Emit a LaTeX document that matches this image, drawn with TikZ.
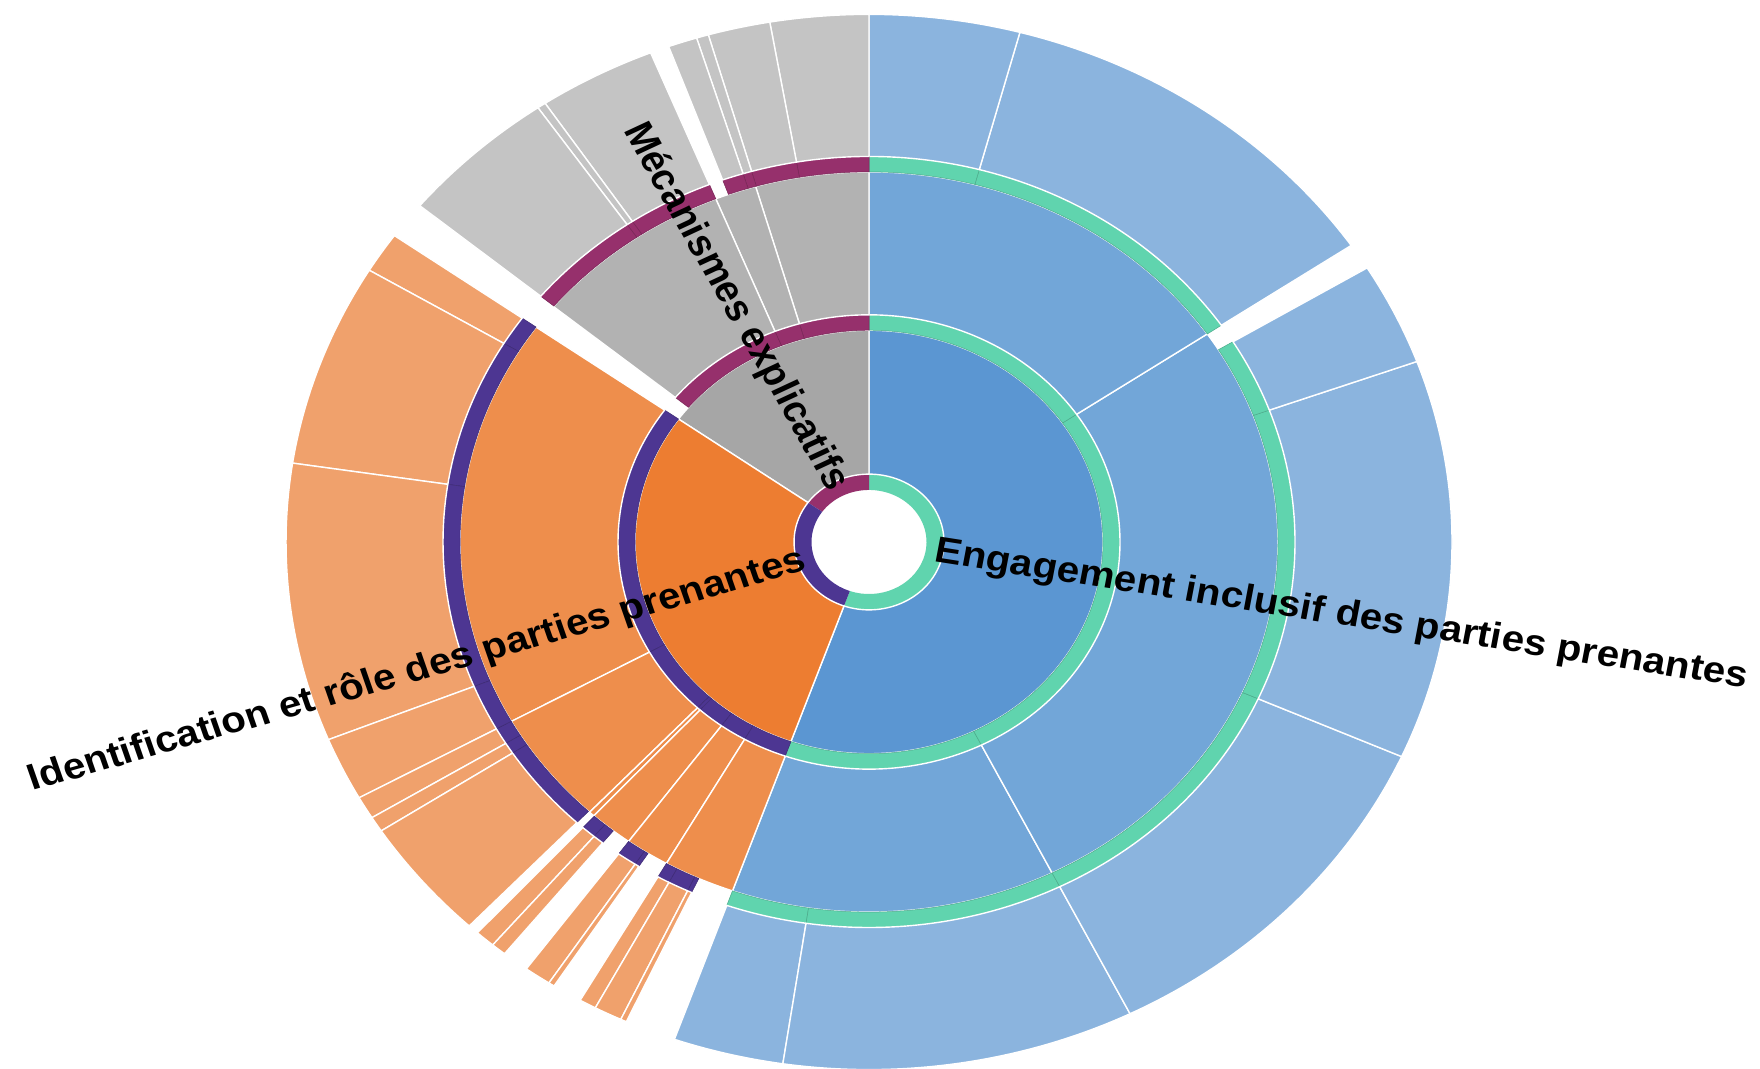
\documentclass[tikz,border=0pt]{standalone}
\usepackage{fontspec}
\setmainfont{Liberation Sans}
\definecolor{blueA}{HTML}{5B96D2}
\definecolor{blueB}{HTML}{72A6D8}
\definecolor{blueC}{HTML}{8BB4DE}
\definecolor{orangeA}{HTML}{ED7D31}
\definecolor{orangeB}{HTML}{EE8E4C}
\definecolor{orangeC}{HTML}{F0A16C}
\definecolor{grayA}{HTML}{A6A6A6}
\definecolor{grayB}{HTML}{B2B2B2}
\definecolor{grayC}{HTML}{C4C4C4}
\definecolor{greenband}{HTML}{60D4AE}
\definecolor{purpband}{HTML}{4D3692}
\definecolor{magband}{HTML}{96306C}
\newcommand\annpiece[5]{\path[#5] (#1:#3) arc[start angle=#1,end angle=#2,radius=#3] -- (#2:#4) arc[start angle=#2,end angle=#1,radius=#4] -- cycle;}
\newcommand\ringA[4]{\annpiece{#1}{#2}{57.5}{75}{fill=#4}\annpiece{#1}{#2}{75}{234}{fill=#3,draw=white,line width=0.7pt}}
\newcommand\ringB[4]{\annpiece{#1}{#2}{234}{251}{fill=#4,draw=#4!80!black,line width=0.25pt}\annpiece{#1}{#2}{251}{409}{fill=#3,draw=white,line width=0.7pt}}
\newcommand\ringC[4]{\annpiece{#1}{#2}{409}{426}{fill=#4,draw=#4!80!black,line width=0.25pt}\annpiece{#1}{#2}{426}{583}{fill=#3,draw=white,line width=0.7pt}}
\tikzset{lbl/.style={font=\bfseries\fontsize{20.2}{24}\selectfont, inner sep=0pt, text=black, transform shape}}
\begin{document}
\begin{tikzpicture}[x=0.5pt,y=0.5pt]
\fill[white] (0,0) rectangle (1760,1069);
\useasboundingbox (0,0) rectangle (1760,1069);
\begin{scope}[shift={(869,527)},yscale=0.905]
% ring 1
\ringA{250.5}{450}{blueA}{greenband}
\ringA{90}{144.5}{grayA}{magband}
\ringA{144.5}{250.5}{orangeA}{purpband}
% ring 2
\ringB{250.5}{296.6}{blueB}{greenband}
\ringB{296.6}{394.2}{blueB}{greenband}
\ringB{394.2}{450}{blueB}{greenband}
\ringB{90}{106.1}{grayB}{magband}
\ringB{106.1}{112}{grayB}{magband}
\ringB{112}{140.5}{grayB}{magband}
\ringB{144.5}{209}{orangeB}{purpband}
\ringB{209}{226.9}{orangeB}{purpband}
\ringB{226.9}{227.7}{orangeB}{purpband}
\ringB{227.7}{234}{orangeB}{purpband}
\ringB{234}{240.3}{orangeB}{purpband}
\ringB{240.3}{250.5}{orangeB}{purpband}
% ring 3
\ringC{250.5}{261.5}{blueC}{greenband}
\ringC{261.5}{296.6}{blueC}{greenband}
\ringC{296.6}{336}{blueC}{greenband}
\ringC{336}{380}{blueC}{greenband}
\ringC{380}{391.3}{blueC}{greenband}
\ringC{394.2}{435}{blueC}{greenband}
\ringC{435}{450}{blueC}{greenband}
\ringC{90}{99.8}{grayC}{magband}
\ringC{99.8}{106}{grayC}{magband}
\ringC{106}{107.2}{grayC}{magband}
\ringC{107.2}{110.1}{grayC}{magband}
\ringC{112}{123.75}{grayC}{magband}
\ringC{123.75}{124.6}{grayC}{magband}
\ringC{124.6}{140.4}{grayC}{magband}
\ringC{144.5}{149}{orangeC}{purpband}
\ringC{149}{171.4}{orangeC}{purpband}
\ringC{171.4}{202}{orangeC}{purpband}
\ringC{202}{209}{orangeC}{purpband}
\ringC{209}{211.5}{orangeC}{purpband}
\ringC{211.5}{213.2}{orangeC}{purpband}
\ringC{213.2}{226.7}{orangeC}{purpband}
\ringC{227.8}{229.8}{orangeC}{purpband}
\ringC{229.8}{231.3}{orangeC}{purpband}
\ringC{234}{236.7}{orangeC}{purpband}
\ringC{236.7}{237.3}{orangeC}{purpband}
\ringC{240.3}{242}{orangeC}{purpband}
\ringC{242}{244.8}{orangeC}{purpband}
\ringC{244.8}{245.4}{orangeC}{purpband}
% labels
\node[lbl,anchor=west,rotate=-9.75] (engagement) at (-9.75:67) {Engagement inclusif des parties prenantes};
\node[lbl,anchor=east,rotate=-62.75] (mecanismes) at (117.25:67) {Mécanismes explicatifs};
\node[lbl,anchor=east,rotate=17.5] (identification) at (197.5:67) {Identification et rôle des parties prenantes};
\end{scope}
\end{tikzpicture}
\end{document}
